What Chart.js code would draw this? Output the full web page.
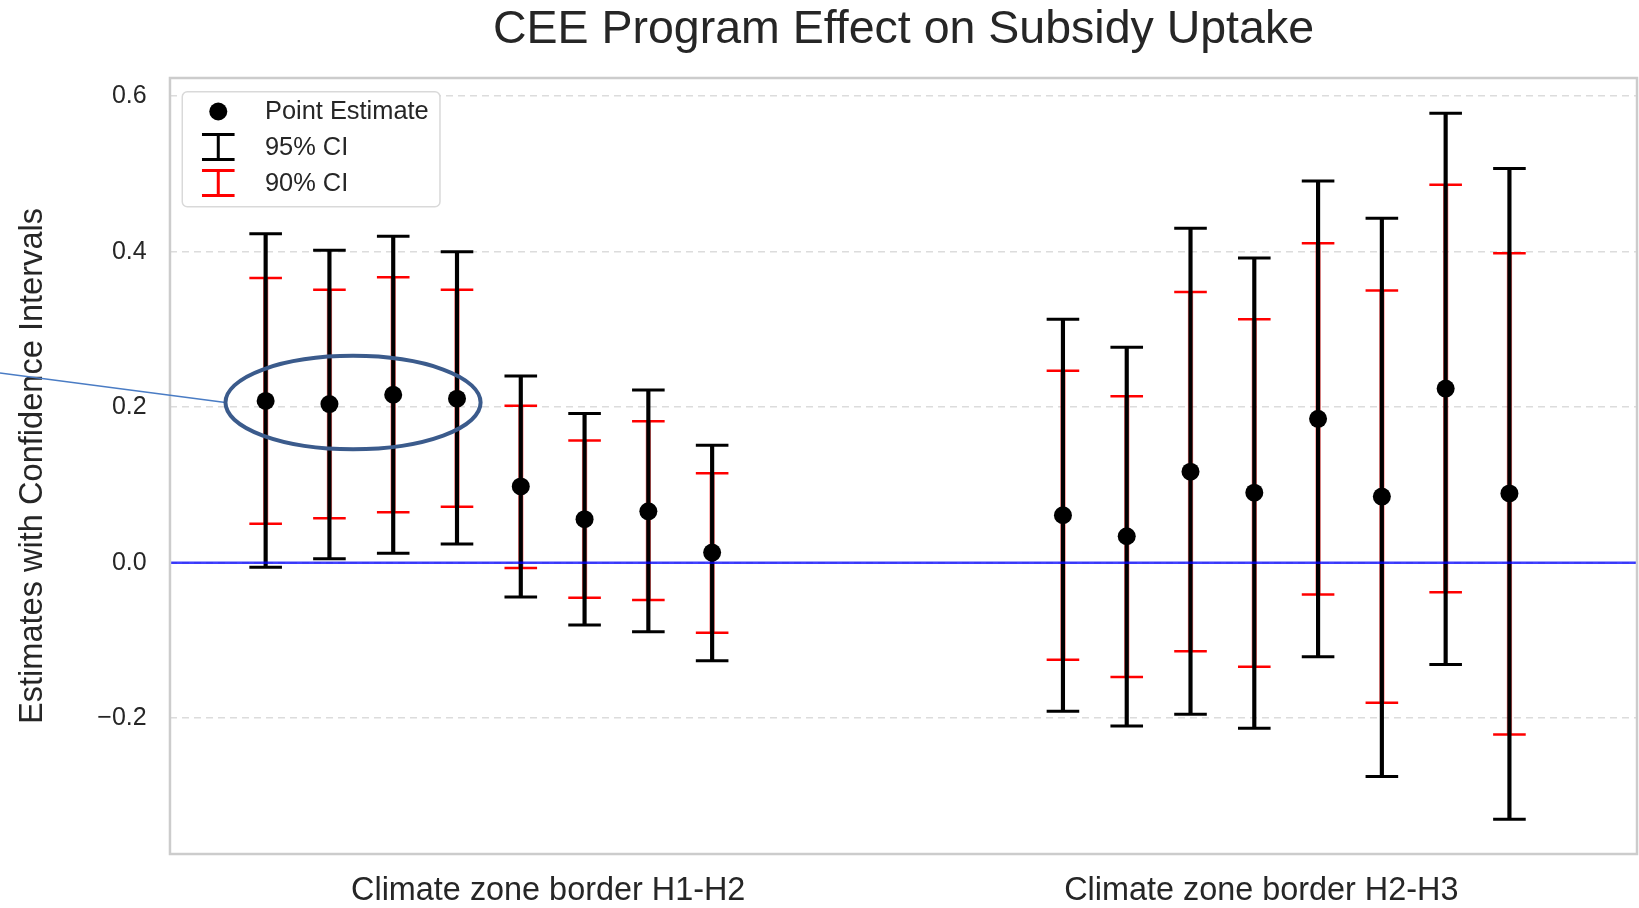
<!DOCTYPE html>
<html>
<head>
<meta charset="utf-8">
<script src="https://cdn.jsdelivr.net/npm/chart.js@4.4.1/dist/chart.umd.min.js"></script>
<style>
  html, body { margin: 0; padding: 0; background: #ffffff; overflow: hidden; }
  #wrap { width: 1639px; height: 908px; position: relative; }
  canvas { display: block; }
</style>
</head>
<body>
<div id="wrap"><canvas id="c" width="1639" height="908"></canvas></div>
<script>
// ---------------- data ----------------
const TITLE = 'CEE Program Effect on Subsidy Uptake';
const Y_TITLE = 'Estimates with Confidence Intervals';
const GROUP_LABELS = ['Climate zone border H1-H2', 'Climate zone border H2-H3'];
const GROUP_TICK_POS = [5.93, 17.11];
const X_POS = [1.5, 2.5, 3.5, 4.5, 5.5, 6.5, 7.5, 8.5, 14, 15, 16, 17, 18, 19, 20, 21];
const POINT = [0.208, 0.204, 0.216, 0.211, 0.098, 0.056, 0.066, 0.013, 0.061, 0.034, 0.117, 0.090, 0.185, 0.085, 0.224, 0.089];
const LO95  = [-0.006, 0.005, 0.012, 0.024, -0.044, -0.080, -0.089, -0.126, -0.191, -0.210, -0.195, -0.213, -0.121, -0.275, -0.131, -0.330];
const HI95  = [0.423, 0.402, 0.420, 0.400, 0.240, 0.192, 0.222, 0.151, 0.313, 0.277, 0.430, 0.392, 0.491, 0.443, 0.578, 0.507];
const LO90  = [0.050, 0.057, 0.065, 0.072, -0.007, -0.045, -0.048, -0.090, -0.125, -0.147, -0.114, -0.134, -0.041, -0.180, -0.038, -0.221];
const HI90  = [0.366, 0.351, 0.367, 0.351, 0.202, 0.157, 0.182, 0.115, 0.247, 0.214, 0.348, 0.313, 0.411, 0.350, 0.486, 0.398];
const Y_TICKS = [-0.2, 0.0, 0.2, 0.4, 0.6];
const LEGEND_LABELS = ['Point Estimate', '95% CI', '90% CI'];
const REF_VALUE = 0;
const X_RANGE = [0, 23];
const Y_RANGE = [-0.3747, 0.6234];
// annotation (ellipse around the first four estimates + pointer line), in data units
const ELLIPSE = { cx: 2.87, cy: 0.206, rx: 2.0, ry: 0.06 };
const POINTER_START = { x: -2.665, y: 0.244 };

// ---------------- styles ----------------
const FONT = "'Liberation Sans', Arial, sans-serif";
const TEXT = '#262626';

const pts = (ys) => X_POS.map((x, i) => ({ x: x, y: ys[i] }));
const capPoints95 = pts(LO95).concat(pts(HI95));
const capPoints90 = pts(LO90).concat(pts(HI90));
const stems95 = X_POS.map((x, i) => ({ x: x, y: [LO95[i], HI95[i]] }));
const stems90 = X_POS.map((x, i) => ({ x: x, y: [LO90[i], HI90[i]] }));

const decor = {
  id: 'decor',
  afterDatasetsDraw(chart) {
    const { ctx, chartArea: a } = chart;
    ctx.save();
    // axes frame
    ctx.strokeStyle = '#cccccc';
    ctx.lineWidth = 2.5;
    ctx.strokeRect(a.left, a.top, a.right - a.left, a.bottom - a.top);

    // legend
    const lx = a.left + 12.3, ly = a.top + 13.7, lw = 257.7, lh = 115;
    ctx.beginPath();
    ctx.roundRect(lx, ly, lw, lh, 5);
    ctx.fillStyle = '#ffffff';
    ctx.fill();
    ctx.strokeStyle = '#d9d9d9';
    ctx.lineWidth = 1.5;
    ctx.stroke();

    const iconX = a.left + 48.3;
    const textX = a.left + 95;
    const rows = [a.top + 34.3, a.top + 70.0, a.top + 106.0];
    ctx.fillStyle = '#000000';
    ctx.beginPath();
    ctx.arc(iconX, rows[0] - 0.8, 9, 0, Math.PI * 2);
    ctx.fill();
    const drawIcon = (cy, color, w) => {
      ctx.strokeStyle = color;
      ctx.lineWidth = w;
      ctx.beginPath();
      ctx.moveTo(iconX - 16.3, cy - 12.5); ctx.lineTo(iconX + 16.3, cy - 12.5);
      ctx.moveTo(iconX - 16.3, cy + 12.5); ctx.lineTo(iconX + 16.3, cy + 12.5);
      ctx.moveTo(iconX, cy - 12.5); ctx.lineTo(iconX, cy + 12.5);
      ctx.stroke();
    };
    drawIcon(rows[1] - 1, '#000000', 3);
    drawIcon(rows[2] - 1, '#ff0000', 3);

    ctx.fillStyle = TEXT;
    ctx.font = '25.4px ' + FONT;
    ctx.textAlign = 'left';
    ctx.textBaseline = 'middle';
    LEGEND_LABELS.forEach((t, i) => ctx.fillText(t, textX, rows[i]));
    ctx.restore();
  },
  afterDraw(chart) {
    const { ctx, scales: { x, y } } = chart;
    const cx = x.getPixelForValue(ELLIPSE.cx);
    const cy = y.getPixelForValue(ELLIPSE.cy);
    const rx = x.getPixelForValue(ELLIPSE.cx + ELLIPSE.rx) - cx;
    const ry = cy - y.getPixelForValue(ELLIPSE.cy + ELLIPSE.ry);
    ctx.save();
    // pointer line
    ctx.strokeStyle = '#4a7cc4';
    ctx.lineWidth = 1.5;
    ctx.beginPath();
    ctx.moveTo(x.getPixelForValue(POINTER_START.x), y.getPixelForValue(POINTER_START.y));
    ctx.lineTo(cx - rx, cy);
    ctx.stroke();
    // ellipse
    ctx.strokeStyle = '#3b5b8c';
    ctx.lineWidth = 4;
    ctx.beginPath();
    ctx.ellipse(cx, cy, rx, ry, 0, 0, Math.PI * 2);
    ctx.stroke();
    ctx.restore();
  }
};

new Chart(document.getElementById('c'), {
  type: 'scatter',
  data: {
    datasets: [
      {
        type: 'scatter', label: 'Point Estimate', data: pts(POINT), order: 0,
        pointStyle: 'circle', pointRadius: 9, pointBackgroundColor: '#000000',
        pointBorderWidth: 0, pointBorderColor: '#000000'
      },
      {
        type: 'line', label: 'zero', data: [{ x: X_RANGE[0], y: REF_VALUE }, { x: X_RANGE[1], y: REF_VALUE }],
        order: 1, borderColor: 'rgba(0,0,255,0.75)', borderWidth: 2.5, pointRadius: 0, fill: false
      },
      {
        type: 'scatter', label: '95% caps', data: capPoints95, order: 2,
        pointStyle: 'line', pointRadius: 16.3, pointBorderWidth: 3, pointBorderColor: '#000000'
      },
      {
        type: 'bar', label: '95% CI', data: stems95, order: 3,
        backgroundColor: '#000000', barThickness: 3.5, borderWidth: 0, grouped: false
      },
      {
        type: 'scatter', label: '90% caps', data: capPoints90, order: 4,
        pointStyle: 'line', pointRadius: 16.3, pointBorderWidth: 2.5, pointBorderColor: '#ff0000'
      },
      {
        type: 'bar', label: '90% CI', data: stems90, order: 5,
        backgroundColor: 'rgba(255,0,0,0.55)', barThickness: 4.6, borderWidth: 0, grouped: false
      }
    ]
  },
  options: {
    responsive: false,
    devicePixelRatio: 1,
    animation: false,
    events: [],
    layout: { autoPadding: false, padding: { top: 0, right: 2, bottom: -21, left: 0 } },
    plugins: {
      legend: { display: false },
      tooltip: { enabled: false },
      title: {
        display: true, text: TITLE, color: TEXT, fullSize: false,
        font: { family: FONT, size: 46.5, weight: 'normal', lineHeight: 1.2 },
        padding: { top: 2.6, bottom: 19.6 }
      }
    },
    scales: {
      x: {
        type: 'linear', min: X_RANGE[0], max: X_RANGE[1], offset: false,
        grid: { display: false, offset: false, drawTicks: false },
        border: { display: false },
        afterBuildTicks(axis) { axis.ticks = GROUP_TICK_POS.map(v => ({ value: v })); },
        ticks: {
          autoSkip: false, maxRotation: 0, minRotation: 0, padding: 18.06, color: TEXT,
          font: { family: FONT, size: 32.4, lineHeight: 1.2 },
          callback: (v, i) => GROUP_LABELS[i]
        }
      },
      y: {
        type: 'linear', min: Y_RANGE[0], max: Y_RANGE[1],
        grid: { color: '#dcdcdc', lineWidth: 1.5, drawTicks: false },
        border: { display: false, dash: [7, 5] },
        afterBuildTicks(axis) { axis.ticks = Y_TICKS.map(v => ({ value: v })); },
        ticks: {
          padding: 23.3, color: TEXT,
          font: { family: FONT, size: 25, lineHeight: 1.2 },
          callback: (v) => (v < 0 ? '\u2212' : '') + Math.abs(v).toFixed(1)
        },
        title: {
          display: true, text: Y_TITLE, color: TEXT,
          font: { family: FONT, size: 32.6, lineHeight: 1.2 },
          padding: { top: 13.8, bottom: 21.1 }
        }
      }
    }
  },
  plugins: [decor]
});
</script>
</body>
</html>
